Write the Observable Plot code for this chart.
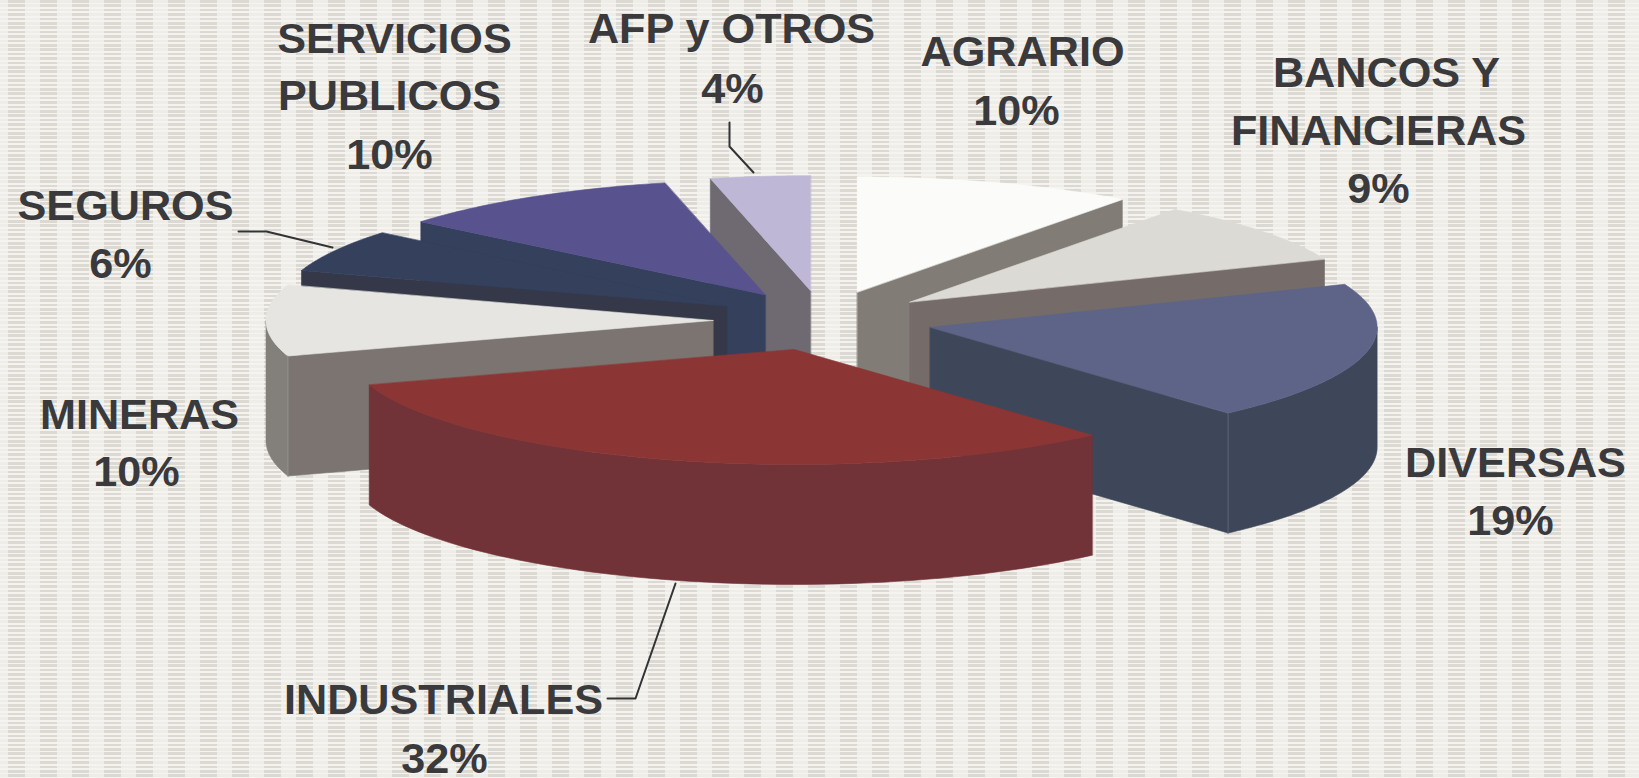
<!DOCTYPE html>
<html><head><meta charset="utf-8">
<style>
html,body{margin:0;padding:0;width:1639px;height:778px;overflow:hidden;background-color:#eeede8}
body{background-image:
 repeating-linear-gradient(to bottom,rgba(245,244,240,0) 0 2.6px,rgba(245,244,240,.95) 2.6px 4.4px),
 repeating-linear-gradient(to right,#eeede8 0 8px,#dbd9d2 8px 25px,#eeede8 25px 32px);}
svg{display:block;background:transparent!important;overflow:visible}
</style>
<script src="https://cdn.jsdelivr.net/npm/d3@7"></script>
<script src="https://cdn.jsdelivr.net/npm/@observablehq/plot@0.6"></script>
</head><body>
<script>
const categories = ["AGRARIO","BANCOS Y FINANCIERAS","DIVERSAS","INDUSTRIALES","MINERAS","SEGUROS","SERVICIOS PUBLICOS","AFP y OTROS"];
const shares = [10.1,8.8,19.49,31.61,10,6,10.4,3.6];
const labelLines = [["AGRARIO"],["BANCOS Y","FINANCIERAS"],["DIVERSAS"],["INDUSTRIALES"],["MINERAS"],["SEGUROS"],["SERVICIOS","PUBLICOS"],["AFP y OTROS"]];

// layout, separate from the data
const topColors  = ["#fbfbf9","#dcdad4","#5e6488","#8b3535","#e6e5e1","#34405c","#58528e","#bfb7d6"];
const wallColors = ["#817c76","#756b69","#3e4759","#713238","#7b7470","#343849","#34405c","#6f6a72"];
const rimColors  = ["#817c76","#756b69","#3e4759","#713238","#83807b","#343849","#34405c","#6f6a72"];
const paintOrder = [7,0,6,1,5,2,4,3];
const pie = {cx:822.5,cy:320,rx:447,ry:115,ex:110,ey:30,depth:120};
const labelX = [[1022,1016],[1386,1378,1378],[1515,1510],[443,444],[139,136],[125,120],[394,389,389],[731,732]];
const labelY = [[52,111],[73,131,189],[463,521],[700,759],[415,472],[206,264],[39,96,155],[29,89]];
const leaders = [[[729,122],[729,146],[753,172]],[[238,231],[266,231],[332,247]],[[607,698],[635,698],[675,583]]];

const rad = d => d*Math.PI/180;
let acc = 0;
const slices = shares.map((v,i)=>{const a0=acc/100*360; acc+=v; const a1=acc/100*360;
  const m=rad((a0+a1)/2);
  return {i,a0,a1,ax:pie.cx+pie.ex*Math.sin(m),ay:pie.cy-pie.ey*Math.cos(m)};});
const rimPt=(s,a,dz=0)=>({x:s.ax+pie.rx*Math.sin(rad(a)),y:s.ay-pie.ry*Math.cos(rad(a))+dz});
const arc=(s,a0,a1,dz=0)=>d3.range(0,61).map(k=>rimPt(s,a0+(a1-a0)*k/60,dz));

const polys=[]; let pid=0;
const add=(pts,fill)=>{pid++;pts.forEach(p=>polys.push({x:p.x,y:p.y,id:pid,fill}));};
for(const idx of paintOrder){
  const s=slices[idx];
  const apex={x:s.ax,y:s.ay}, apexB={x:s.ax,y:s.ay+pie.depth};
  const wall=a=>{const o=rimPt(s,a),b=rimPt(s,a,pie.depth);add([apex,o,b,apexB],wallColors[idx]);};
  if(Math.sin(rad(s.a0))<-1e-6) wall(s.a0);
  if(Math.sin(rad(s.a1))>1e-6) wall(s.a1);
  const r0=Math.max(s.a0,90), r1=Math.min(s.a1,270);
  if(r1>r0) add([...arc(s,r0,r1),...arc(s,r1,r0,pie.depth)],rimColors[idx]);
  add([apex,...arc(s,s.a0,s.a1)],topColors[idx]);
}

// lighter vertical seam where a flat wall meets the curved rim
const seams=[[slices[2],slices[2].a1,"#5a6678"],[slices[4],slices[4].a0,"#918e8a"]]
  .flatMap(([s,a,c],i)=>[rimPt(s,a),rimPt(s,a,pie.depth)].map(p=>({x:p.x,y:p.y,id:i,c})));

const textRows=[];
labelLines.forEach((lines,i)=>{
  [...lines,Math.round(shares[i])+"%"].forEach((t,j)=>textRows.push({t,x:labelX[i][j],y:labelY[i][j]}));
});
const leaderRows=leaders.flatMap((l,i)=>l.map(p=>({x:p[0],y:p[1],id:i})));

const chart=Plot.plot({
  width:1639,height:778,margin:0,
  x:{domain:[0,1639],range:[0,1639],axis:null},
  y:{domain:[0,778],range:[0,778],axis:null},
  style:{background:"transparent"},
  marks:[
    Plot.line(polys,{x:"x",y:"y",z:"id",fill:"fill",stroke:"fill",strokeWidth:0.6,curve:"linear-closed"}),
    Plot.line(seams,{x:"x",y:"y",z:"id",stroke:"c",strokeWidth:1}),
    Plot.line(leaderRows,{x:"x",y:"y",z:"id",stroke:"#333336",strokeWidth:2}),
    Plot.text(textRows,{x:"x",y:"y",text:"t",fontFamily:"Liberation Sans",fontWeight:"bold",fontSize:43.2,fill:"#3a3a3d",textAnchor:"middle",lineAnchor:"middle"})
  ]
});
document.body.appendChild(chart);
</script>
</body></html>
